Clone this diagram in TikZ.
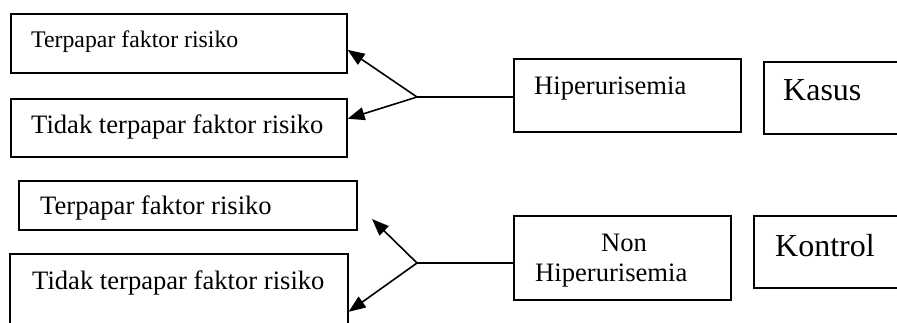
\documentclass[tikz,border=0pt]{standalone}
\usepackage{fontspec}
\setmainfont{Liberation Serif}
\usetikzlibrary{arrows.meta}
\begin{document}
\begin{tikzpicture}[x=1pt,y=-1pt,
  box/.style={draw, line width=1.6pt, inner sep=0pt, anchor=north west},
  lbl/.style={inner sep=0pt, anchor=base west},
  fmain/.style={font=\fontsize{26.6}{30}\selectfont},
  fsmall/.style={font=\fontsize{23.8}{28}\selectfont},
  fbig/.style={font=\fontsize{32}{36}\selectfont},
  conn/.style={line width=1.6pt},
  arr/.style={line width=1.6pt, -{Triangle[length=17pt,width=13pt]}}]
\useasboundingbox (0,0) rectangle (897,322);
\clip (0,0) rectangle (897,322);
% boxes
\node[box, minimum width=336pt, minimum height=59pt] (b1) at (10,13) {};
\node[box, minimum width=336pt, minimum height=58pt] (b2) at (10,98) {};
\node[box, minimum width=338pt, minimum height=49pt] (b3) at (18,180) {};
\node[box, minimum width=338pt, minimum height=90pt] (b4) at (9,253) {};
\node[box, minimum width=227pt, minimum height=73pt] (h1) at (513,58) {};
\node[box, minimum width=160pt, minimum height=72pt] (k1) at (763,61) {};
\node[box, minimum width=217pt, minimum height=84pt] (h2) at (513,215) {};
\node[box, minimum width=170pt, minimum height=72pt] (k2) at (753,215) {};
% texts
\node[lbl, fsmall] (t1) at (31,47) {Terpapar faktor risiko};
\node[lbl, fmain] (t2) at (31,133) {Tidak terpapar faktor risiko};
\node[lbl, fmain] (t3) at (40,214) {Terpapar faktor risiko};
\node[lbl, fmain] (t4) at (32,289) {Tidak terpapar faktor risiko};
\node[lbl, fmain] (th1) at (534,94) {Hiperurisemia};
\node[lbl, fbig] (tk1) at (783,100) {Kasus};
\node[inner sep=0pt, anchor=base, fmain] (tn) at (624,251) {Non};
\node[lbl, fmain] (th2) at (535,281) {Hiperurisemia};
\node[lbl, fbig] (tk2) at (775,256) {Kontrol};
% connectors
\coordinate (j1) at (417,97);
\coordinate (j2) at (417,263);
\coordinate (up2) at (372,219);
\draw[conn] (j1) -- (j1 -| h1.west);
\draw[arr] (j1) -- ([yshift=-6.5pt]b1.east);
\draw[arr] (j1) -- ([yshift=9pt]b2.east);
\draw[conn] (j2) -- (j2 -| h2.west);
\draw[arr] (j2) -- (up2);
\draw[arr] (j2) -- ([yshift=-13pt]b4.east);
\end{tikzpicture}
\end{document}
